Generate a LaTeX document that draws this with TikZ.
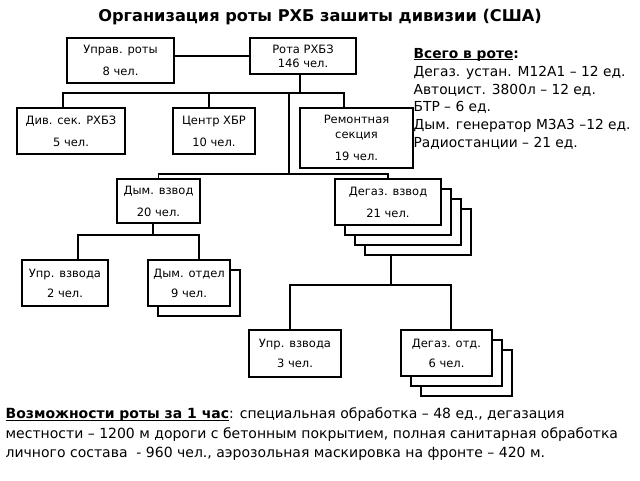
\documentclass[tikz,border=0pt]{standalone}
\usepackage{fontspec}
\setmainfont{DejaVu Sans}
\usetikzlibrary{shadows}
\newcommand\myul[1]{\setbox0\hbox{#1}\rlap{\rule[-2pt]{\wd0}{0.8pt}}\box0}
\begin{document}
\begin{tikzpicture}[x=1pt,y=-1pt, line width=1.3pt,
  box/.style={draw, fill=white, inner sep=0pt, align=center, font=\fontsize{11.5}{14}\selectfont},
  shA/.style={general shadow={draw, fill=white, shadow xshift=#1pt, shadow yshift=-#1pt}},
  txt/.style={inner sep=0pt, align=left}
]
\useasboundingbox (0,0) rectangle (640,480);

\node[inner sep=0pt, font=\fontsize{16.2}{19}\selectfont\bfseries] (title) at (320,17) {Организация роты РХБ зашиты дивизии (США)};

\node[box, minimum width=107pt, minimum height=45pt] (upr) at (120.5,60.5) {Управ. роты\\[8pt]8 чел.};
\node[box, minimum width=106pt, minimum height=36pt] (rota) at (303,56) {Рота РХБЗ\\[0pt]146 чел.};
\node[box, minimum width=108pt, minimum height=46pt] (div) at (71,131) {Див. сек. РХБЗ\\[8pt]5 чел.};
\node[box, minimum width=82pt, minimum height=46pt] (centr) at (214,131) {Центр ХБР\\[8pt]10 чел.};
\node[box, minimum width=113pt, minimum height=60pt] (remont) at (356.5,138) {Ремонтная\\[1pt]секция\\[8pt]19 чел.};
\node[box, minimum width=83pt, minimum height=44pt] (dymv) at (158.5,201) {Дым. взвод\\[8pt]20 чел.};
\node[box, shA=30, shA=20, shA=10, minimum width=106pt, minimum height=46pt] (degv) at (388,202) {Дегаз. взвод\\[8pt]21 чел.};
\node[box, minimum width=86pt, minimum height=46pt] (upr2) at (65,283) {Упр. взвода\\[6pt]2 чел.};
\node[box, shA=10, minimum width=82pt, minimum height=46pt] (dymo) at (189,283) {Дым. отдел\\[6pt]9 чел.};
\node[box, minimum width=92pt, minimum height=47pt] (upr3) at (295,353.5) {Упр. взвода\\[6pt]3 чел.};
\node[box, shA=20, shA=10, minimum width=91pt, minimum height=46pt] (dego) at (446.5,353) {Дегаз. отд.\\[6pt]6 чел.};

% connectors
\draw (rota.west) -- (rota.west -| upr.east);
\coordinate (j1) at (300,93);
\coordinate (bL) at (63,93);
\coordinate (bR) at (344,93);
\coordinate (bC) at (209,93);
\coordinate (bP) at (289,93);
\coordinate (p1) at (289,174);
\draw (rota.south -| j1) -- (j1);
\draw (div.north -| bL) -- (bL) -- (bR) -- (remont.north -| bR);
\draw (bC) -- (centr.north -| bC);
\draw (bP) -- (p1);
\draw (dymv.north) |- (p1) -| (degv.north);
\coordinate (q1) at (153,235);
\coordinate (qL) at (78,235);
\coordinate (qR) at (199,235);
\draw (dymv.south -| q1) -- (q1);
\draw (upr2.north -| qL) -- (qL) -- (qR) -- (dymo.north -| qR);
\path ([yshift=-30pt]degv.south) coordinate (r0t);
\coordinate (r1) at (391,285);
\coordinate (rL) at (290,285);
\coordinate (rR) at (451,285);
\draw (r0t -| r1) -- (r1);
\draw (upr3.north -| rL) -- (rL) -- (rR) -- (dego.north -| rR);

\node[txt, anchor=north west, font=\fontsize{13.8}{17.9}\selectfont] (tot) at (413,47.5)
 {\textbf{\myul{Всего в роте}:}\\
  Дегаз. устан. M12A1 – 12 ед.\\
  Автоцист. 3800л – 12 ед.\\
  БТР – 6 ед.\\
  Дым. генератор M3A3 –12 ед.\\
  Радиостанции – 21 ед.};

\node[txt, anchor=north west, font=\fontsize{14}{19.5}\selectfont] (cap) at (5,407)
 {\textbf{\myul{Возможности роты за 1 час}}: специальная обработка – 48 ед., дегазация\\
  местности – 1200 м дороги с бетонным покрытием, полная санитарная обработка\\
  личного состава~~- 960 чел., аэрозольная маскировка на фронте – 420 м.};
\end{tikzpicture}
\end{document}
